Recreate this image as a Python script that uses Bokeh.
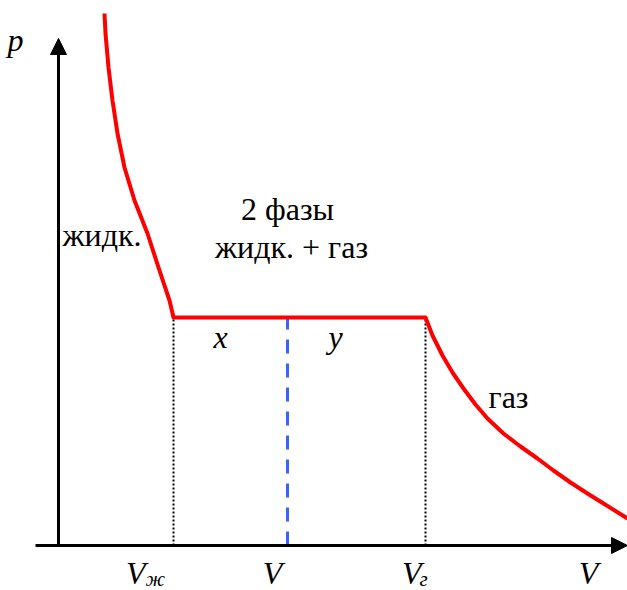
from bokeh.plotting import figure
from bokeh.models import Range1d, Arrow, NormalHead, Label
from bokeh.embed import file_html
from bokeh.resources import INLINE

# Isotherm of a real substance in p-V coordinates (arbitrary units)
# liquid branch: steep drop of pressure with volume
liq_v = [0.46, 0.47, 0.50, 0.54, 0.59, 0.66, 0.76, 0.89, 1.00, 1.11, 1.15]
liq_p = [5.32, 5.12, 4.78, 4.45, 4.12, 3.78, 3.45, 3.12, 2.78, 2.45, 2.28]

# two-phase plateau at saturated vapour pressure
v_liq = 1.15
v_gas = 3.67
v_mix = 2.29
p_sat = 2.28

# gas branch: hyperbola-like decay
gas_v = [3.67, 3.74, 3.84, 3.94, 4.05, 4.17, 4.29, 4.45, 4.62, 4.79, 4.95, 5.12, 5.29, 5.45, 5.69]
gas_p = [2.28, 2.10, 1.90, 1.73, 1.57, 1.41, 1.27, 1.12, 0.99, 0.87, 0.75, 0.63, 0.52, 0.42, 0.27]

# axis extents
v_axis = [-0.23, 5.69]
p_axis = [0.0, 5.07]

p = figure(width=627, height=590, output_backend="svg", toolbar_location=None,
           x_range=Range1d(-0.58, 5.69), y_range=Range1d(-0.45, 5.45),
           min_border=0)
p.axis.visible = False
p.grid.visible = False
p.outline_line_color = None
p.background_fill_color = "white"
p.border_fill_color = "white"

# coordinate axes with arrow heads
p.add_layout(Arrow(end=NormalHead(size=16, fill_color="black", line_color="black"),
                   x_start=0.0, y_start=p_axis[0], x_end=0.0, y_end=p_axis[1],
                   line_width=3, line_color="black"))
p.add_layout(Arrow(end=NormalHead(size=16, fill_color="black", line_color="black"),
                   x_start=v_axis[0], y_start=0.0, x_end=v_axis[1], y_end=0.0,
                   line_width=3, line_color="black"))

# dotted drop lines at the phase boundaries
p.segment(x0=[v_liq, v_gas], y0=[0, 0], x1=[v_liq, v_gas], y1=[p_sat, p_sat],
          line_color="black", line_width=2, line_dash="2 2")

# current volume of the mixture
p.segment(x0=[v_mix], y0=[0], x1=[v_mix], y1=[p_sat],
          line_color="#3366ff", line_width=3, line_dash="14 10")

# the isotherm itself
iso_v = liq_v + gas_v
iso_p = liq_p + gas_p
p.line(iso_v, iso_p, line_color="red", line_width=4, line_join="round")


def label(x, y, txt, size="32px", italic=False, align="left"):
    # y is the bottom edge of the text box
    p.add_layout(Label(x=x, y=y, text=txt, text_font="Liberation Serif",
                       text_font_size=size,
                       text_font_style="italic" if italic else "normal",
                       text_align=align, text_color="black"))


# region labels
label(-0.51, 4.88, "p", italic=True)
label(0.04, 2.93, "жидк.")
label(2.29, 3.19, "2 фазы", align="center")
label(2.33, 2.81, "жидк. + газ", align="center")
label(4.30, 1.31, "газ")
label(1.62, 1.91, "x", italic=True, align="center")
label(2.77, 1.91, "y", italic=True, align="center")

# volume labels under the axis
label(0.87, -0.45, "V", italic=True, align="right")
label(0.87, -0.45, "ж", size="21px", italic=True)
label(v_mix - 0.15, -0.45, "V", italic=True, align="center")
label(3.63, -0.45, "V", italic=True, align="right")
label(3.61, -0.45, "г", size="21px", italic=True)
label(5.30, -0.45, "V", italic=True, align="center")

open("out.html", "w").write(file_html(p, INLINE))
